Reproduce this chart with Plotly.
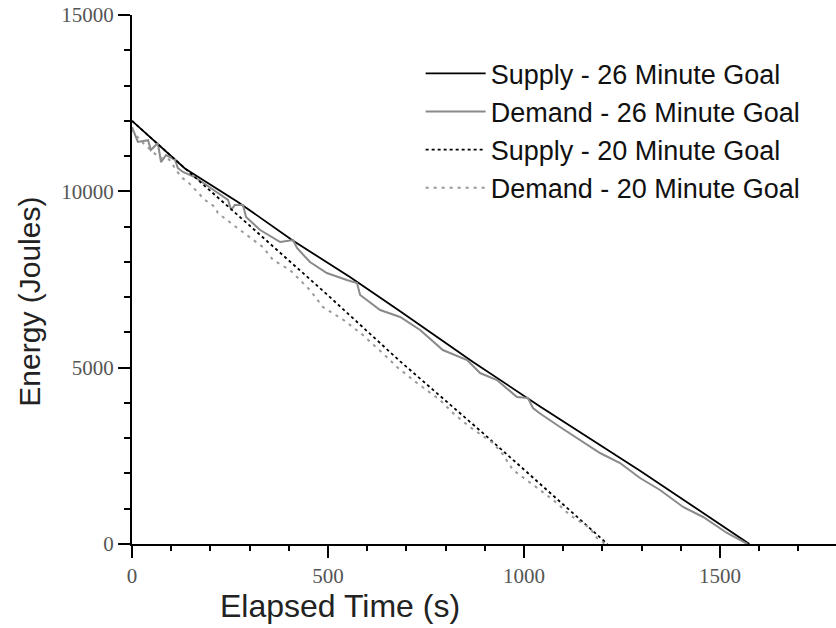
import plotly.graph_objects as go

# Supply - 26 Minute Goal
s26_t = [0, 135, 270, 411, 556, 684, 870, 1041, 1296, 1450, 1575]
s26_e = [12000, 10650, 9700, 8600, 7570, 6600, 5160, 3900, 2080, 940, 0]

# Demand - 26 Minute Goal
d26_t = [0, 15, 41, 48, 66, 74, 87, 110, 117, 130, 160, 202, 245, 253, 262, 283, 291,
         327, 378, 411, 421, 454, 497, 548, 574, 582, 633, 684, 735, 793, 855, 888,
         931, 982, 1010, 1023, 1041, 1092, 1143, 1194, 1245, 1296, 1347, 1406, 1457,
         1518, 1570]
d26_e = [11820, 11400, 11450, 11170, 11370, 10830, 11030, 10890, 10660, 10550, 10405,
         10090, 9755, 9470, 9610, 9610, 9270, 8903, 8562, 8620, 8392, 7995, 7683, 7485,
         7400, 7060, 6635, 6436, 6068, 5500, 5217, 4848, 4650, 4168, 4140, 3856, 3700,
         3317, 2949, 2580, 2297, 1871, 1531, 1049, 766, 312, 0]

# Supply - 20 Minute Goal
s20_t = [0, 135, 300, 500, 684, 900, 1100, 1213]
s20_e = [12000, 10650, 9030, 7050, 5180, 3100, 1120, 0]

# Demand - 20 Minute Goal
d20_t = [0, 20, 45, 70, 95, 125, 143, 168, 186, 212, 219, 270, 334, 360, 403, 454, 487,
         540, 589, 650, 676, 727, 786, 819, 862, 921, 945, 972, 1015, 1041, 1084, 1117,
         1168, 1186, 1207]
d20_e = [11750, 11450, 11200, 10950, 10900, 10405, 10263, 9952, 9755, 9555, 9385, 8950,
         8420, 8052, 7770, 7202, 6720, 6350, 5925, 5302, 5018, 4565, 4083, 3714, 3317,
         2863, 2560, 2098, 1758, 1531, 1162, 822, 454, 170, 0]

names = ["Supply - 26 Minute Goal", "Demand - 26 Minute Goal",
         "Supply - 20 Minute Goal", "Demand - 20 Minute Goal"]
x_ticks = [0, 500, 1000, 1500]
y_ticks = [0, 5000, 10000, 15000]
x_title = "Elapsed Time (s)"
y_title = "Energy (Joules)"

fig = go.Figure()
fig.add_trace(go.Scatter(x=s26_t, y=s26_e, mode="lines", name=names[0],
                         line=dict(color="#000000", width=1.8)))
fig.add_trace(go.Scatter(x=d26_t, y=d26_e, mode="lines", name=names[1],
                         line=dict(color="#8a8a8a", width=2)))
fig.add_trace(go.Scatter(x=s20_t, y=s20_e, mode="lines", name=names[2],
                         line=dict(color="#000000", width=1.8, dash="3px,3px")))
fig.add_trace(go.Scatter(x=d20_t, y=d20_e, mode="lines", name=names[3],
                         line=dict(color="#999999", width=2, dash="3px,5px")))

tickfont = dict(family="Liberation Serif", size=21, color="#555555")
titlefont = dict(family="Liberation Sans", size=30, color="#222222")

fig.update_layout(
    width=836, height=628,
    margin=dict(l=132, r=0, t=15, b=84),
    plot_bgcolor="white", paper_bgcolor="white",
    showlegend=True,
    legend=dict(x=0.41, y=0.935, xanchor="left", yanchor="top",
                font=dict(family="Liberation Sans", size=27, color="#111111"),
                bgcolor="rgba(0,0,0,0)", itemwidth=60, tracegroupgap=0),
    xaxis=dict(range=[0, 1796], tickvals=x_ticks, tickformat="d",
               ticks="outside", ticklen=12, tickwidth=1.5, tickcolor="black",
               showline=True, linecolor="black", linewidth=2,
               showgrid=False, zeroline=False, tickfont=tickfont,
               minor=dict(dtick=100, ticks="outside", ticklen=5, tickwidth=1.5,
                          tickcolor="black", showgrid=False)),
    yaxis=dict(range=[0, 15000], tickvals=y_ticks, tickformat="d",
               ticks="outside", ticklen=12, tickwidth=1.5, tickcolor="black",
               showline=True, linecolor="black", linewidth=2,
               showgrid=False, zeroline=False, tickfont=tickfont,
               minor=dict(dtick=1000, ticks="outside", ticklen=6, tickwidth=1.5,
                          tickcolor="black", showgrid=False)),
    annotations=[
        dict(text=x_title, xref="paper", yref="paper", x=0.295, y=-0.118,
             xanchor="center", yanchor="middle", showarrow=False,
             font=dict(family="Liberation Sans", size=32, color="#222222")),
        dict(text=y_title, xref="paper", yref="paper", x=-0.145, y=0.458,
             xanchor="center", yanchor="middle", showarrow=False, textangle=-90,
             font=titlefont),
    ],
)

fig.write_html("out.html")
